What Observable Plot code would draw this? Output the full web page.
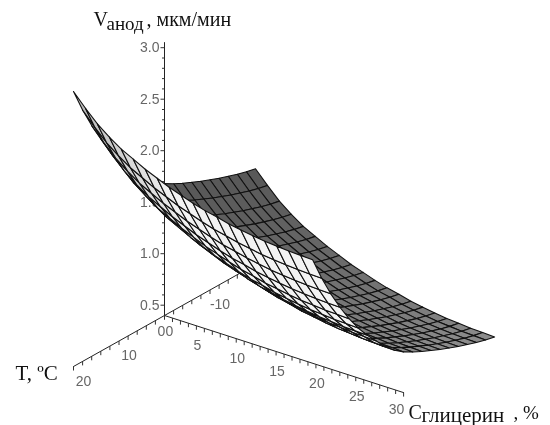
<!DOCTYPE html>
<html>
<head>
<meta charset="utf-8">
<script src="https://cdn.jsdelivr.net/npm/d3@7"></script>
<script src="https://cdn.jsdelivr.net/npm/@observablehq/plot@0.6"></script>
<style>
html,body{margin:0;padding:0;background:#fff}
svg{display:block;filter:blur(.45px)}
</style>
</head>
<body>
<div id="chart"></div>
<script>
// Surface: V along T at zero glycerine, and its fall with glycerine.
const tempGrid = [-20,-18,-16,-14,-12,-10,-8,-6,-4,-2,0,2,4,6,8,10,12,14,16,18,20];
const vAlongTemp = [1.33,1.35,1.375,1.405,1.435,1.47,1.505,1.545,1.585,1.63,1.68,1.745,1.83,1.935,2.04,2.16,2.30,2.46,2.64,2.84,3.07];
const glycGrid = [0,1.5,3,4.5,6,7.5,9,10.5,12,13.5,15,16.5,18,19.5,21,22.5,24,25.5,27,28.5,30];
const vDropGlyc = [0,-0.125,-0.24,-0.33,-0.41,-0.47,-0.53,-0.58,-0.63,-0.67,-0.71,-0.745,-0.77,-0.80,-0.82,-0.84,-0.855,-0.865,-0.875,-0.88,-0.885];

const vTicks = [0.5,0.6,0.7,0.8,0.9,1,1.1,1.2,1.3,1.4,1.5,1.6,1.7,1.8,1.9,2,2.1,2.2,2.3,2.4,2.5,2.6,2.7,2.8,2.9,3];
const vLabels = [["0.5",0.5],["1.0",1],["1.5",1.5],["2.0",2],["2.5",2.5],["3.0",3]];
const tTicks = [-18,-16,-14,-12,-10,-8,-6,-4,-2,0,2,4,6,8,10,12,14,16,18,20];
const tLabels = [-10,10,20];
const cTicks = Array.from({length:31},(_,i)=>i);
const cLabels = [5,10,15,20,25,30];

// Oblique view of the box: each data axis maps to a screen direction.
const view = {x0:164, y0:315, v0:0.4, tx:-4.55, ty:2.55, cx:7.97, cy:2.57, vy:-103};
const sx = (t,c) => view.x0 + view.tx*t + view.cx*c;
const sy = (t,c,v) => view.y0 + view.ty*t + view.cy*c + view.vy*(v-view.v0);
const pt = (t,c,v) => ({x:sx(t,c), y:sy(t,c,v)});

const V = (i,j) => vAlongTemp[i] + vDropGlyc[j];
const hex = v => d3.gray(v).formatHex();

// Patches back to front, so nearer ones paint over farther ones.
const patches = [];
let id = 0;
for (let i=0;i<tempGrid.length-1;i++){
  for (let j=0;j<glycGrid.length-1;j++){
    const q = [[i,j],[i+1,j],[i+1,j+1],[i,j+1]].map(([a,b])=>pt(tempGrid[a],glycGrid[b],V(a,b)));
    let area = 0;
    q.forEach((p,k)=>{const n=q[(k+1)%4]; area += p.x*n.y-n.x*p.y;});
    const under = area > 0;
    const f = j/(glycGrid.length-2);
    const shade = under ? hex(76+20*Math.min(1,f*2.5)) : hex(38+20*f);
    [...q,q[0]].forEach(p=>patches.push({...p,patch:id,shade}));
    id++;
  }
}

const axisLine = (a,b)=>[a,b];
const font = {fontFamily:"'Liberation Sans',Arial,sans-serif",fontSize:14,fill:"#666"};
const serif = {fontFamily:"'Liberation Serif','Times New Roman',serif",fill:"#111",frameAnchor:"top-left",textAnchor:"start",lineAnchor:"bottom"};
const isMajor = d => Math.abs(d*2-Math.round(d*2))<1e-6;

const chart = Plot.plot({
  width:550,height:425,margin:0,
  x:{domain:[0,550],range:[0,550],axis:null},
  y:{domain:[0,425],range:[0,425],axis:null},
  color:{type:"identity"},
  style:{background:"#fff"},
  marks:[
    // axes
    Plot.line(axisLine(pt(0,0,0.4),pt(0,0,3.05)),{x:"x",y:"y",stroke:"#222",strokeWidth:1}),
    Plot.line(axisLine(pt(20,0,0.4),pt(-20,0,0.4)),{x:"x",y:"y",stroke:"#222",strokeWidth:1}),
    Plot.line(axisLine(pt(0,0,0.4),pt(0,30,0.4)),{x:"x",y:"y",stroke:"#222",strokeWidth:1}),
    // ticks
    Plot.link(vTicks,{x1:d=>sx(0,0)-(isMajor(d)?4:2.5),y1:d=>sy(0,0,d),x2:()=>sx(0,0),y2:d=>sy(0,0,d),stroke:"#333",strokeWidth:1}),
    Plot.link(tTicks,{x1:d=>sx(d,0),y1:d=>sy(d,0,0.4),x2:d=>sx(d,0),y2:d=>sy(d,0,0.4)+4,stroke:"#333",strokeWidth:1}),
    Plot.link(cTicks,{x1:d=>sx(0,d),y1:d=>sy(0,d,0.4),x2:d=>sx(0,d),y2:d=>sy(0,d,0.4)+4,stroke:"#333",strokeWidth:1}),
    // tick labels
    Plot.text(vLabels,{x:()=>sx(0,0),y:d=>sy(0,0,d[1]),text:d=>d[0],textAnchor:"end",dx:-5,...font}),
    Plot.text(tLabels,{x:d=>sx(d,0),y:d=>sy(d,0,0.4),text:d=>String(d),dx:10,dy:15,...font}),
    Plot.text(cLabels,{x:d=>sx(0,d),y:d=>sy(0,d,0.4),text:d=>String(d),dx:-7,dy:17,...font}),
    Plot.text(["0"],{x:()=>sx(0,0),y:()=>sy(0,0,0.4),text:d=>d,dx:-3,dy:16,...font}),
    Plot.text(["0"],{x:()=>sx(0,0),y:()=>sy(0,0,0.4),text:d=>d,dx:5,dy:16,...font}),
    // surface
    Plot.line(patches,{x:"x",y:"y",z:"patch",fill:"shade",stroke:"#111",strokeWidth:1.1,strokeLinejoin:"round",curve:"linear"}),
    // axis titles
    Plot.text(["V"],{...serif,fontSize:20,dx:93,dy:25}),
    Plot.text(["анод"],{...serif,fontSize:19,dx:106,dy:29}),
    Plot.text([", мкм/мин"],{...serif,fontSize:20,dx:146,dy:25}),
    Plot.text(["T, ºC"],{...serif,fontSize:21,dx:15,dy:379}),
    Plot.text(["C"],{...serif,fontSize:20,dx:408,dy:418}),
    Plot.text(["глицерин"],{...serif,fontSize:21,dx:421,dy:421}),
    Plot.text([", %"],{...serif,fontSize:19,dx:513,dy:418})
  ]
});
document.getElementById("chart").append(chart);
</script>
</body>
</html>
